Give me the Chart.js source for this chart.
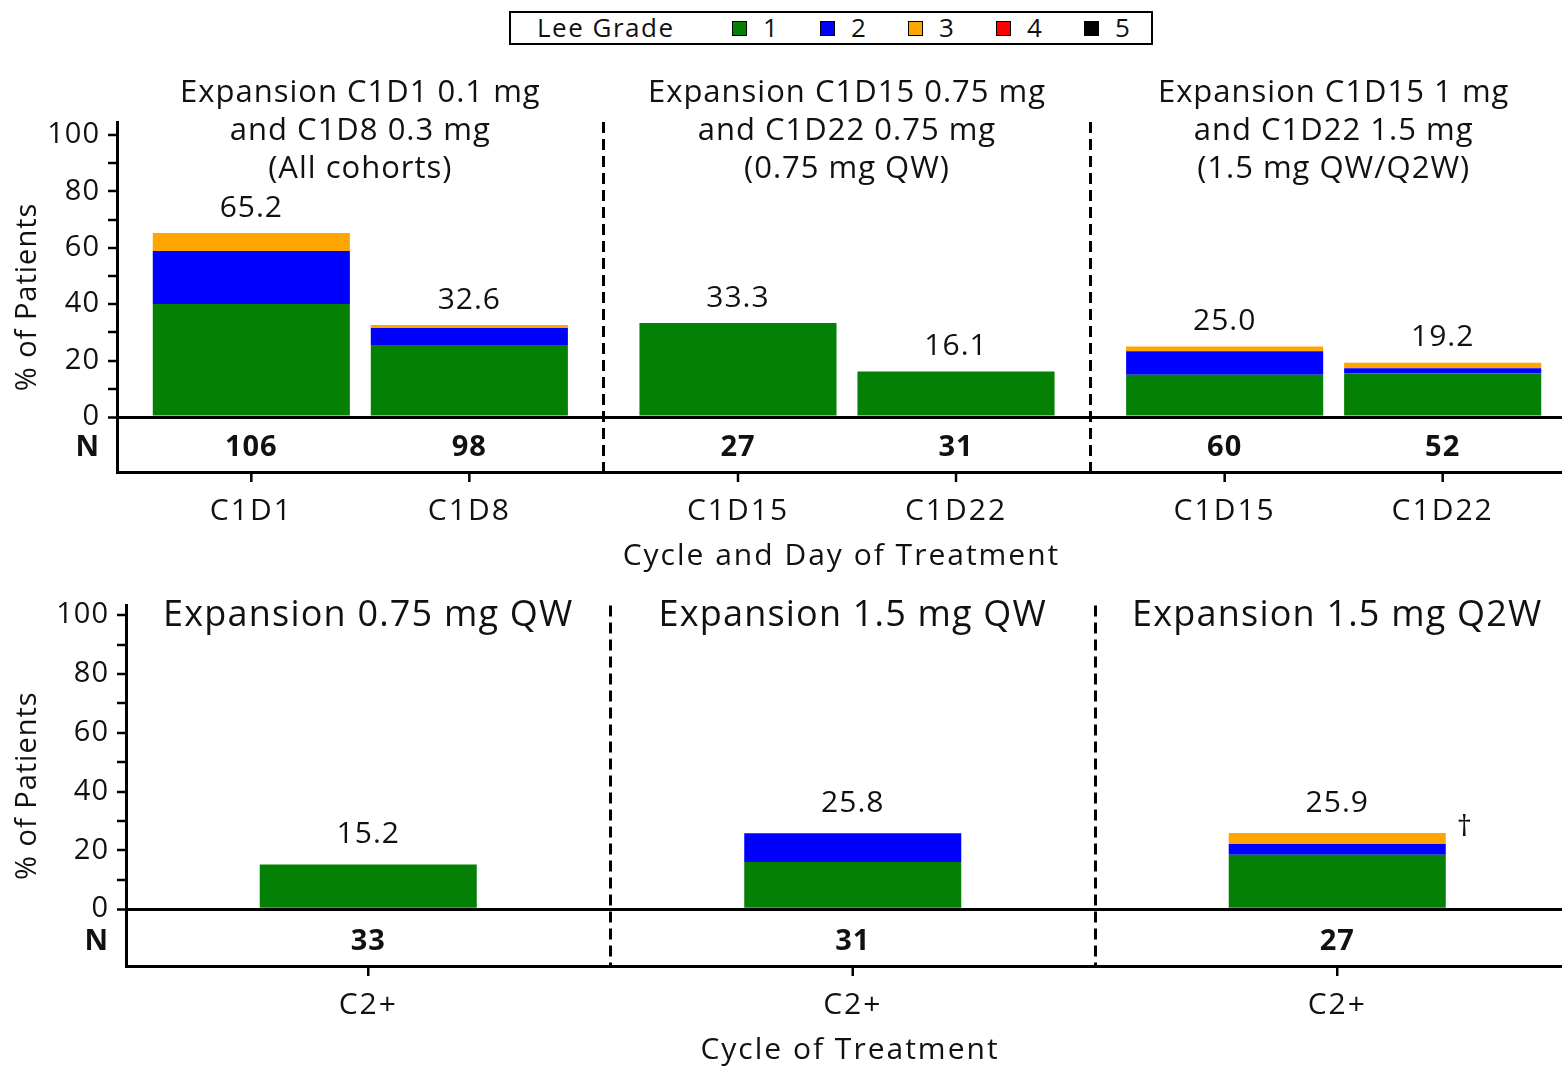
<!DOCTYPE html>
<html>
<head>
<meta charset="utf-8">
<script src="https://cdn.jsdelivr.net/npm/chart.js@4.4.1/dist/chart.umd.min.js"></script>
<style>
  body { margin: 0; background: #fff; font-family: 'Open Sans', sans-serif; }
  #wrap { position: relative; width: 1562px; height: 1067px; overflow: hidden; }
  #top { position: absolute; left: 0; top: 0; }
  #bottom { position: absolute; left: 0; top: 580px; }
  #legend { position: absolute; left: 509px; top: 11px; width: 640px; height: 30px;
            border: 2px solid #000; box-sizing: content-box; font-size: 26px; color: #111;
            letter-spacing: 1.5px; }
  #legend span { position: absolute; top: -2px; line-height: 32px; }
  #legend i { position: absolute; top: 8px; width: 13px; height: 13px; border: 1.5px solid #000; }
</style>
</head>
<body>
<div id="wrap">
  <div id="legend"><span style="left:26px">Lee Grade</span></div>
  <div id="top"><canvas id="topChart" width="1600" height="580" style="width:1600px;height:580px"></canvas></div>
  <div id="bottom"><canvas id="bottomChart" width="1600" height="487" style="width:1600px;height:487px"></canvas></div>
</div>
<script>
// Lee grade colours / labels
var grades = ['1', '2', '3', '4', '5'];
var gradeColors = ['#048004', '#0000ff', '#ffa500', '#ff0000', '#000000'];

// top panel: cycle 1 days, two per cohort group
var topGroups = [
    ['Expansion C1D1 0.1 mg', 'and C1D8 0.3 mg', '(All cohorts)'],
    ['Expansion C1D15 0.75 mg', 'and C1D22 0.75 mg', '(0.75 mg QW)'],
    ['Expansion C1D15 1 mg', 'and C1D22 1.5 mg', '(1.5 mg QW/Q2W)']
];
var topDays = ['C1D1', 'C1D8', 'C1D15', 'C1D22', 'C1D15', 'C1D22'];
var topN = [106, 98, 27, 31, 60, 52];
var topTotals = ['65.2', '32.6', '33.3', '16.1', '25.0', '19.2'];
var topGrade1 = [40.1, 25.5, 33.3, 16.1, 15.0, 15.4];
var topGrade2 = [18.8, 6.1, 0, 0, 8.3, 1.9];
var topGrade3 = [6.3, 1.0, 0, 0, 1.7, 1.9];
var topGrade4 = [0, 0, 0, 0, 0, 0];
var topGrade5 = [0, 0, 0, 0, 0, 0];

// bottom panel: cycle 2+
var botGroups = ['Expansion 0.75 mg QW', 'Expansion 1.5 mg QW', 'Expansion 1.5 mg Q2W'];
var botCycles = ['C2+', 'C2+', 'C2+'];
var botN = [33, 31, 27];
var botTotals = ['15.2', '25.8', '25.9'];
var botNotes = ['', '', '†'];
var botGrade1 = [15.2, 16.1, 18.5];
var botGrade2 = [0, 9.7, 3.7];
var botGrade3 = [0, 0, 3.7];
var botGrade4 = [0, 0, 0];
var botGrade5 = [0, 0, 0];

var yTicks = [0, 10, 20, 30, 40, 50, 60, 70, 80, 90, 100];
var FONT = "'Open Sans', sans-serif";

// legend
var legend = document.getElementById('legend');
grades.forEach(function(g, i) {
    var box = document.createElement('i');
    box.style.left = (221 + i * 88) + 'px';
    box.style.background = gradeColors[i];
    legend.appendChild(box);
    var t = document.createElement('span');
    t.style.left = (252 + i * 88) + 'px';
    t.textContent = g;
    legend.appendChild(t);
});

function yScale(min, max, nRow, width) {
    return {
        min: min,
        max: max,
        afterFit: function(s) { s.width = width; },
        afterBuildTicks: function(s) {
            s.ticks = [nRow].concat(yTicks).map(function(v) { return { value: v }; });
        },
        border: { display: true, color: '#000', width: 3 },
        grid: {
            drawOnChartArea: true,
            color: function(c) { return c.tick && c.tick.value === 0 ? '#000' : 'rgba(0,0,0,0)'; },
            lineWidth: function(c) { return c.tick && c.tick.value === 0 ? 3 : 0; },
            tickColor: function(c) { return c.tick && c.tick.value < 0 ? 'rgba(0,0,0,0)' : '#000'; },
            tickWidth: 2.5,
            tickLength: 9
        },
        ticks: {
            autoSkip: false,
            padding: 8,
            color: '#111',
            font: function(c) {
                var bold = c.tick && c.tick.value < 0;
                return { family: FONT, size: 29, weight: bold ? 'bold' : 'normal' };
            },
            callback: function(v) {
                if (v < 0) return 'N';
                return v % 20 === 0 ? String(v) : '';
            }
        },
        title: {
            display: true,
            text: '% of Patients',
            color: '#111',
            font: { family: FONT, size: 29 },
            padding: { top: 10, bottom: 0 }
        }
    };
}

function xScale(height) {
    return {
        afterFit: function(s) { s.height = height; },
        border: { display: true, color: '#000', width: 3, dash: [11, 6] },
        grid: {
            offset: true,
            drawTicks: false,
            color: function(c) { return c.index === 0 ? 'rgba(0,0,0,0)' : '#000'; },
            lineWidth: 3
        },
        ticks: { display: false }
    };
}

// wider letter spacing for everything drawn by the library
var spacing = {
    id: 'spacing',
    beforeDraw: function(chart) { chart.ctx.letterSpacing = '1px'; }
};

// draws group titles, totals, N row, tick marks, day labels and axis title
function barLabels(cfg) {
    return {
        id: 'barLabels',
        afterDraw: function(chart) {
            var ctx = chart.ctx, area = chart.chartArea;
            var y = chart.scales.y, x = chart.scales.x;
            ctx.save();
            ctx.fillStyle = '#111';
            ctx.textAlign = 'center';
            ctx.textBaseline = 'middle';
            // group titles
            ctx.font = cfg.titleSize + 'px ' + FONT;
            ctx.letterSpacing = cfg.titleSpacing + 'px';
            cfg.groups.forEach(function(lines, i) {
                var gx = x.getPixelForValue(i);
                [].concat(lines).forEach(function(l, k) {
                    ctx.fillText(l, gx, area.top + cfg.titleTop + k * cfg.titleStep);
                });
            });
            // x axis title
            ctx.font = '30px ' + FONT;
            ctx.letterSpacing = '2px';
            ctx.fillText(cfg.axisTitle, (area.left + 1562) / 2 + cfg.axisShift, area.bottom + 84);
            cfg.slots.forEach(function(slot) {
                var meta = chart.getDatasetMeta(slot.dataset);
                meta.data.forEach(function(bar, i) {
                    var idx = slot.index(i);
                    var bx = bar.x;
                    var top = y.getPixelForValue(parseFloat(cfg.totals[idx]));
                    ctx.font = '30px ' + FONT;
                    ctx.letterSpacing = '1px';
                    ctx.fillText(cfg.totals[idx], bx, top - cfg.valueGap);
                    if (cfg.notes && cfg.notes[idx]) {
                        ctx.fillText(cfg.notes[idx], bx + bar.width / 2 + 19, top - 6);
                    }
                    ctx.font = 'bold 29px ' + FONT;
                    ctx.fillText(String(cfg.n[idx]), bx, y.getPixelForValue(cfg.nRow));
                    ctx.font = '30px ' + FONT;
                    ctx.letterSpacing = '2px';
                    ctx.fillText(cfg.labels[idx], bx, area.bottom + 39);
                    ctx.beginPath();
                    ctx.lineWidth = 2.5;
                    ctx.strokeStyle = '#000';
                    ctx.moveTo(bx, area.bottom);
                    ctx.lineTo(bx, area.bottom + 10);
                    ctx.stroke();
                });
            });
            ctx.restore();
        }
    };
}

// ---- top chart ----
var topSeries = [topGrade1, topGrade2, topGrade3, topGrade4, topGrade5];
var topDatasets = [];
[0, 1].forEach(function(s) {
    topSeries.forEach(function(arr, g) {
        topDatasets.push({
            label: 'Grade ' + grades[g],
            data: [arr[s], arr[2 + s], arr[4 + s]],
            backgroundColor: gradeColors[g],
            borderWidth: 0,
            stack: 'day' + s,
            categoryPercentage: 0.896,
            barPercentage: 0.904
        });
    });
});

new Chart(document.getElementById('topChart').getContext('2d'), {
    type: 'bar',
    data: { labels: ['A', 'B', 'C'], datasets: topDatasets },
    options: {
        responsive: false,
        animation: false,
        layout: { padding: { top: 122, left: 0, right: 23, bottom: 0 } },
        plugins: { legend: { display: false }, tooltip: { enabled: false } },
        scales: {
            x: xScale(108),
            y: yScale(-19.5, 104.6, -11, 117)
        }
    },
    plugins: [spacing, barLabels({
        groups: topGroups, titleSize: 31, titleSpacing: 1, titleTop: -29, titleStep: 38,
        totals: topTotals, n: topN, labels: topDays, nRow: -11, valueGap: 25,
        axisTitle: 'Cycle and Day of Treatment', axisShift: 2,
        slots: [
            { dataset: 0, index: function(i) { return i * 2; } },
            { dataset: 5, index: function(i) { return i * 2 + 1; } }
        ]
    })]
});

// ---- bottom chart ----
var botSeries = [botGrade1, botGrade2, botGrade3, botGrade4, botGrade5];
var botDatasets = botSeries.map(function(arr, g) {
    return {
        label: 'Grade ' + grades[g],
        data: arr,
        backgroundColor: gradeColors[g],
        borderWidth: 0,
        stack: 'c2',
        categoryPercentage: 0.9,
        barPercentage: 0.4977
    };
});

new Chart(document.getElementById('bottomChart').getContext('2d'), {
    type: 'bar',
    data: { labels: botCycles, datasets: botDatasets },
    options: {
        responsive: false,
        animation: false,
        layout: { padding: { top: 18, left: 0, right: 20.5, bottom: 0 } },
        plugins: { legend: { display: false }, tooltip: { enabled: false } },
        scales: {
            x: xScale(101),
            y: yScale(-19.3, 103.3, -11, 126)
        }
    },
    plugins: [spacing, barLabels({
        groups: botGroups, titleSize: 36, titleSpacing: 1.2, titleTop: 10, titleStep: 0,
        totals: botTotals, n: botN, labels: botCycles, notes: botNotes, nRow: -11, valueGap: 30,
        axisTitle: 'Cycle of Treatment', axisShift: 6,
        slots: [{ dataset: 0, index: function(i) { return i; } }]
    })]
});
</script>
</body>
</html>
